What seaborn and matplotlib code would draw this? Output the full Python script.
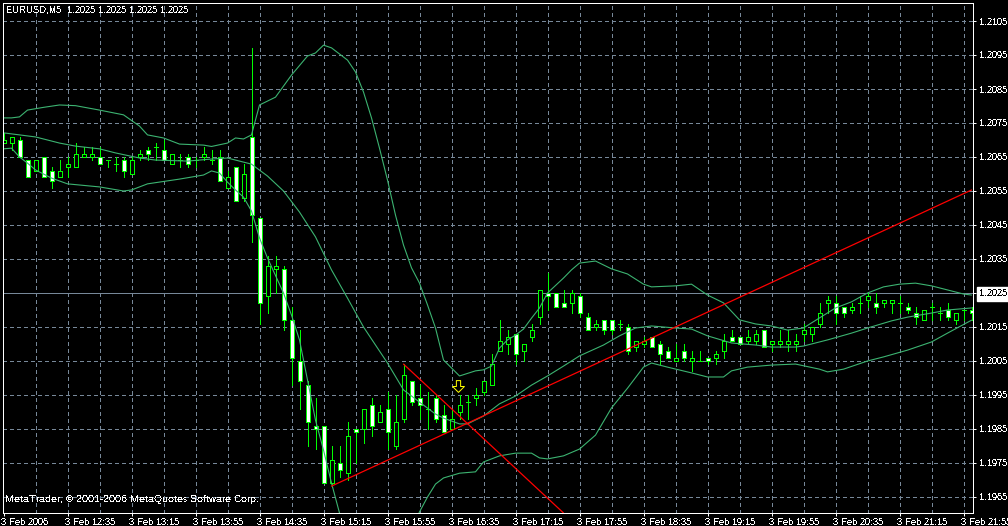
import matplotlib
matplotlib.use("Agg")
import matplotlib.pyplot as plt
from matplotlib.path import Path
from matplotlib.transforms import ScaledTranslation
import numpy as np
import pandas as pd
import seaborn as sns

opens = [1.2069,1.2069,1.2070,1.2064,1.2061,1.2065,1.2061,1.2059,1.2062,1.2062,
 1.2065,1.2065,1.2065,1.2064,1.2063,1.2064,1.2060,1.2065,1.2067,1.2068,
 1.2067,1.2063,1.2064,1.2065,1.2064,1.2065,1.2064,1.2065,1.2056,1.2062,
 1.2053,1.2071,1.2047,1.2024,1.2032,1.2032,1.2017,1.2005,1.1998,1.1986,
 1.1986,1.1969,1.1975,1.1972,1.1985,1.1985,1.1992,1.1987,1.1991,1.1980,
 1.1988,1.1999,1.1994,1.1991,1.1994,1.1989,1.1985,1.1990,1.1993,1.1994,
 1.1996,1.1998,1.2008,1.2010,1.2013,1.2008,1.2012,1.2018,1.2025,1.2025,
 1.2022,1.2022,1.2024,1.2018,1.2015,1.2017,1.2017,1.2016,1.2015,1.2009,
 1.2010,1.2012,1.2010,1.2008,1.2005,1.2008,1.2005,1.2005,1.2006,1.2006,
 1.2008,1.2012,1.2012,1.2011,1.2011,1.2014,1.2010,1.2010,1.2010,1.2010,
 1.2013,1.2013,1.2016,1.2022,1.2022,1.2021,1.2020,1.2022,1.2023,1.2022,
 1.2022,1.2022,1.2022,1.2021,1.2019,1.2017,1.2021,1.2019,1.2020,1.2017,
 1.2020,1.2020]
highs = [1.2072,1.2071,1.2071,1.2064,1.2064,1.2065,1.2062,1.2064,1.2065,1.2069,
 1.2068,1.2068,1.2068,1.2064,1.2065,1.2065,1.2065,1.2067,1.2068,1.2069,
 1.2070,1.2066,1.2066,1.2066,1.2065,1.2068,1.2067,1.2067,1.2061,1.2062,
 1.2063,1.2097,1.2047,1.2036,1.2036,1.2033,1.2021,1.2014,1.1999,1.1994,
 1.1986,1.1980,1.1980,1.1987,1.1985,1.1991,1.1994,1.1992,1.1996,1.1995,
 1.2004,1.1999,1.1998,1.1996,1.1995,1.1992,1.1991,1.1995,1.1995,1.1997,
 1.1999,1.2007,1.2017,1.2014,1.2013,1.2010,1.2016,1.2026,1.2031,1.2025,
 1.2026,1.2026,1.2025,1.2019,1.2017,1.2017,1.2017,1.2017,1.2016,1.2011,
 1.2012,1.2012,1.2011,1.2009,1.2010,1.2010,1.2008,1.2008,1.2006,1.2008,
 1.2013,1.2014,1.2012,1.2014,1.2014,1.2014,1.2011,1.2014,1.2014,1.2013,
 1.2016,1.2015,1.2022,1.2024,1.2024,1.2021,1.2022,1.2024,1.2025,1.2025,
 1.2023,1.2023,1.2024,1.2022,1.2021,1.2020,1.2022,1.2021,1.2022,1.2019,
 1.2020,1.2021]
lows = [1.2069,1.2067,1.2065,1.2059,1.2061,1.2059,1.2056,1.2059,1.2059,1.2062,
 1.2065,1.2064,1.2063,1.2062,1.2061,1.2059,1.2060,1.2064,1.2064,1.2064,
 1.2064,1.2063,1.2062,1.2062,1.2062,1.2064,1.2063,1.2058,1.2056,1.2052,
 1.2052,1.2040,1.2016,1.2019,1.2025,1.2014,1.1998,1.1991,1.1980,1.1979,
 1.1969,1.1968,1.1971,1.1970,1.1975,1.1981,1.1983,1.1987,1.1979,1.1979,
 1.1987,1.1992,1.1988,1.1985,1.1987,1.1984,1.1985,1.1988,1.1988,1.1992,
 1.1995,1.1998,1.2008,1.2007,1.2004,1.2005,1.2011,1.2016,1.2020,1.2021,
 1.2021,1.2019,1.2018,1.2014,1.2014,1.2013,1.2013,1.2014,1.2007,1.2008,
 1.2009,1.2009,1.2004,1.2006,1.2005,1.2005,1.2002,1.2005,1.2004,1.2004,
 1.2006,1.2011,1.2010,1.2010,1.2010,1.2009,1.2008,1.2009,1.2008,1.2008,
 1.2011,1.2011,1.2015,1.2019,1.2016,1.2018,1.2019,1.2019,1.2021,1.2019,
 1.2021,1.2019,1.2019,1.2019,1.2016,1.2017,1.2017,1.2017,1.2017,1.2016,
 1.2017,1.2017]
closes = [1.2070,1.2071,1.2065,1.2059,1.2064,1.2059,1.2058,1.2061,1.2063,1.2066,
 1.2066,1.2066,1.2063,1.2064,1.2063,1.2061,1.2064,1.2066,1.2066,1.2068,
 1.2064,1.2066,1.2064,1.2063,1.2064,1.2066,1.2064,1.2058,1.2059,1.2052,
 1.2060,1.2048,1.2022,1.2033,1.2033,1.2017,1.2006,1.1999,1.1987,1.1985,
 1.1969,1.1976,1.1973,1.1983,1.1984,1.1991,1.1986,1.1990,1.1984,1.1987,
 1.2001,1.1993,1.1992,1.1991,1.1988,1.1984,1.1988,1.1992,1.1993,1.1995,
 1.1999,1.2004,1.2011,1.2012,1.2007,1.2010,1.2014,1.2026,1.2024,1.2021,
 1.2021,1.2025,1.2019,1.2014,1.2016,1.2014,1.2014,1.2016,1.2008,1.2011,
 1.2011,1.2009,1.2007,1.2006,1.2006,1.2006,1.2006,1.2005,1.2005,1.2007,
 1.2011,1.2011,1.2010,1.2012,1.2013,1.2009,1.2011,1.2011,1.2011,1.2011,
 1.2014,1.2015,1.2019,1.2023,1.2019,1.2019,1.2021,1.2022,1.2024,1.2021,
 1.2023,1.2023,1.2022,1.2020,1.2018,1.2020,1.2021,1.2019,1.2018,1.2019,
 1.2020,1.2019]

upper_bar = [0,1,2,3,5,7,9,12,15,17,18,20,22,25,26,28,29,30,31,32,34,36,38,39,40,41,42,43,44,45,46,47,48,49,50,
 51,52,53,54,55,57,59,60,61,62,63,64,65,66,67,68,70,71,72,74,76,78,80,81,84,86,88,90,92,94,96,98,100,101,104,
 106,108,110,112,114,116,118,120,121]
upper = [1.20765,1.20765,1.20768,1.20788,1.20796,1.20803,1.20801,1.20788,1.20774,1.20741,1.20715,1.20706,1.20688,
 1.20685,1.20681,1.20691,1.20706,1.20703,1.20715,1.20803,1.20826,1.20891,1.20947,1.20956,1.20979,1.20971,1.20953,
 1.20935,1.20900,1.20841,1.20765,1.20676,1.20582,1.20479,1.20391,1.20324,1.20279,1.20215,1.20147,1.20053,1.20006,
 1.20021,1.20024,1.20035,1.20088,1.20112,1.20126,1.20144,1.20176,1.20206,1.20250,1.20294,1.20318,1.20338,1.20344,
 1.20321,1.20306,1.20276,1.20268,1.20271,1.20276,1.20244,1.20221,1.20171,1.20159,1.20153,1.20141,1.20147,1.20162,
 1.20206,1.20224,1.20250,1.20268,1.20276,1.20279,1.20271,1.20259,1.20247,1.20244]

mid_bar = [0,1,4,7,9,12,14,17,19,23,26,28,31,33,35,37,39,41,43,45,48,50,52,54,55,57,58,60,62,64,66,68,70,72,75,77,
 79,81,84,86,88,91,94,96,99,100,103,106,108,111,113,116,118,121]
middle = [1.20721,1.20718,1.20709,1.20691,1.20682,1.20674,1.20662,1.20647,1.20641,1.20638,1.20644,1.20647,1.20629,
 1.20594,1.20550,1.20488,1.20415,1.20318,1.20235,1.20150,1.20044,1.19965,1.19929,1.19894,1.19882,1.19865,1.19865,
 1.19888,1.19924,1.19947,1.19979,1.20006,1.20035,1.20065,1.20097,1.20124,1.20147,1.20153,1.20147,1.20144,1.20124,
 1.20103,1.20097,1.20091,1.20091,1.20094,1.20112,1.20132,1.20147,1.20168,1.20179,1.20191,1.20200,1.20206]

lower_bar = [0,1,2,3,4,6,8,12,15,16,18,22,25,26,27,28,29,30,31,32,33,35,36,37,38,39,40,41,42,44,48,51,52,53,54,55,
 57,59,60,62,64,66,67,68,70,72,74,76,78,80,81,83,86,88,90,91,93,96,99,102,103,105,108,110,113,116,118,121]
lower = [1.20674,1.20676,1.20650,1.20632,1.20612,1.20588,1.20571,1.20562,1.20550,1.20553,1.20571,1.20585,1.20597,
 1.20609,1.20603,1.20576,1.20553,1.20532,1.20491,1.20412,1.20353,1.20250,1.20185,1.20112,1.19994,1.19876,1.19788,
 1.19691,1.19603,1.19510,1.19435,1.19553,1.19606,1.19650,1.19688,1.19706,1.19720,1.19724,1.19753,1.19771,1.19779,
 1.19779,1.19765,1.19762,1.19771,1.19791,1.19832,1.19912,1.19970,1.20032,1.20044,1.20032,1.20015,1.20003,1.20003,
 1.20021,1.20032,1.20038,1.20041,1.20026,1.20018,1.20026,1.20050,1.20062,1.20082,1.20106,1.20132,1.20170]

trend_up_bar = [41, 121]
trend_up = [1.19682, 1.20553]
trend_down_bar = [50, 70]
trend_down = [1.20041, 1.19603]
current_price = 1.2025
signal_bar = 56.75
signal_price = 1.19976

price_ticks = [1.2105,1.2095,1.2085,1.2075,1.2065,1.2055,1.2045,1.2035,1.2025,1.2015,1.2005,1.1995,1.1985,1.1975,1.1965]
time_tick_bars = [0,8,16,24,32,40,48,56,64,72,80,88,96,104,112,120]
time_tick_labels = ["3 Feb 2006","3 Feb 12:35","3 Feb 13:15","3 Feb 13:55","3 Feb 14:35","3 Feb 15:15",
 "3 Feb 15:55","3 Feb 16:35","3 Feb 17:15","3 Feb 17:55","3 Feb 18:35","3 Feb 19:15","3 Feb 19:55",
 "3 Feb 20:35","3 Feb 21:15","3 Feb 21:55"]
header = "EURUSD,M5  1.2025 1.2025 1.2025 1.2025"
footer = "MetaTrader, © 2001-2006 MetaQuotes Software Corp."

sns.set_theme(style="dark", rc={"axes.facecolor": "black", "figure.facecolor": "black"})
FONT = ["Liberation Sans", "DejaVu Sans"]
plt.rcParams["font.family"] = FONT
plt.rcParams["text.antialiased"] = False
plt.rcParams["text.hinting"] = "native"
plt.rcParams["text.hinting_factor"] = 1
PX = 0.72
plt.rcParams["lines.linewidth"] = PX
W, H = 1008, 526
GRID, GREEN, BAND, RED = "#778899", "#00FF00", "#3CB371", "#FF0000"

fig = plt.figure(figsize=(W/100, H/100), dpi=100, facecolor="black")
L, R, T, B = 2.5, 972.5, 2.5, 512.5
ax = fig.add_axes([L/W, 1-B/H, (R-L)/W, (B-T)/H], facecolor="black")
ax.set_xlim(-0.125, 121.125)
ax.set_ylim(1.1965 + (497-B)/34000, 1.1965 + (497-T)/34000)

candles = pd.DataFrame({"o": opens, "h": highs, "l": lows, "c": closes})
candles["bar"] = candles.index
candles["top"] = candles[["o", "c"]].max(axis=1)
candles["bottom"] = candles[["o", "c"]].min(axis=1)

# grid
dash = (0, (4, 3))
for b in range(4, 122, 4):
    ax.axvline(b, color=GRID, lw=PX, ls=dash, zorder=1, antialiased=False)
for p in price_ticks:
    ax.axhline(p, color=GRID, lw=PX, ls=dash, zorder=1, antialiased=False)
ax.grid(False)

ax.axhline(current_price, color=GRID, lw=PX, zorder=1.5, antialiased=False)

# candles
ax.vlines(candles["bar"], candles["l"], candles["h"], color=GREEN, lw=PX, zorder=2, antialiased=False)
face = ["white" if c < o else "black" for o, c in zip(candles["o"], candles["c"])]
ax.bar(candles["bar"], candles["top"]-candles["bottom"], bottom=candles["bottom"], width=0.5,
       color=face, edgecolor=GREEN, linewidth=PX, zorder=3, antialiased=False)

# indicators
def line(xs, ys, color, width):
    d = pd.DataFrame({"bar": xs, "price": ys})
    sns.lineplot(data=d, x="bar", y="price", color=color, linewidth=width, ax=ax, estimator=None,
                 sort=False, zorder=4, antialiased=True)

line(upper_bar, upper, BAND, 0.8)
line(mid_bar, middle, BAND, 0.8)
line(lower_bar, lower, BAND, 0.8)
line(trend_up_bar, trend_up, RED, 0.9)
line(trend_down_bar, trend_down, RED, 0.9)

arrow = Path(np.array([[-0.18,0.5],[0.18,0.5],[0.18,0.0],[0.5,0.0],[0,-0.5],[-0.5,0.0],[-0.18,0.0],[-0.18,0.5]]), closed=True)
ax.scatter([signal_bar], [signal_price], marker=arrow, s=72, facecolor="black", edgecolor="#FFFF00",
           linewidth=PX, zorder=5)

ax.set_xlabel("")
ax.set_ylabel("")
ax.set_xticks(time_tick_bars)
ax.set_xticklabels(time_tick_labels, ha="left", color="white", fontsize=6.6)
ax.yaxis.tick_right()
ax.set_yticks(price_ticks)
ax.set_yticklabels([f"{p:.4f}" for p in price_ticks], color="white", fontsize=6.6)
ax.tick_params(axis="x", length=2, width=PX, color="white", pad=2, bottom=True)
ax.tick_params(axis="y", length=2, width=PX, color="white", pad=3, right=True, left=False)
shift = ScaledTranslation(-2.5/100, 0, fig.dpi_scale_trans)
for lab in ax.get_xticklabels():
    lab.set_transform(lab.get_transform() + shift)
for s in ax.spines.values():
    s.set_color("white")
    s.set_linewidth(PX)
    s.set_visible(True)
    s.set_zorder(6)
for lab, p in zip(ax.get_yticklabels(), price_ticks):
    if abs(p-current_price) < 1e-6:
        lab.set_color("black")
        lab.set_bbox(dict(facecolor="white", edgecolor="white", pad=2.0))

fig.text(6/W, 1-10.5/H, header, color="white", fontsize=6.6, va="center", ha="left")
fig.text(5/W, 1-500/H, footer, color="white", fontsize=7.2, va="center", ha="left")

fig.savefig("out.png", dpi=100, facecolor="black")
